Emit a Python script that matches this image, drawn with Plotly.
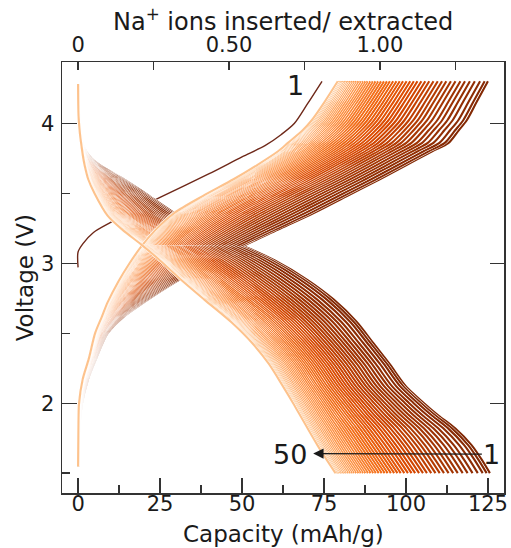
import plotly.graph_objects as go

# ---------------- data ----------------
cycles = list(range(1, 51))

# capacity (mAh/g) reached at 4.3 V on charge, cycles 2..50
charge_capacity = [125.0, 124.0, 122.6, 121.0, 119.5, 118.0, 116.6, 115.1, 113.7, 112.3,
                   111.0, 109.7, 108.4, 107.1, 105.9, 104.7, 103.5, 102.4, 101.3, 100.2,
                   99.1, 98.1, 97.1, 96.1, 95.1, 94.2, 93.3, 92.4, 91.5, 90.7,
                   89.9, 89.1, 88.3, 87.6, 86.9, 86.2, 85.5, 84.8, 84.2, 83.6,
                   83.0, 82.4, 81.9, 81.4, 80.9, 80.4, 80.0, 79.6, 79.2]

# capacity (mAh/g) reached at 1.5 V on discharge, cycles 1..50
discharge_capacity = [125.6, 124.6, 123.4, 121.9, 120.3, 118.8, 117.3, 115.8, 114.4, 113.0,
                      111.6, 110.3, 109.0, 107.7, 106.4, 105.2, 104.0, 102.8, 101.7, 100.6,
                      99.5, 98.4, 97.4, 96.4, 95.4, 94.4, 93.5, 92.6, 91.7, 90.8,
                      90.0, 89.2, 88.4, 87.6, 86.9, 86.2, 85.5, 84.8, 84.1, 83.5,
                      82.9, 82.3, 81.7, 81.2, 80.7, 80.2, 79.7, 79.3, 78.9, 78.5]

# charge profiles: capacity at given voltage levels (early = cycle 2, late = cycle 50)
charge_levels = [1.55, 1.8, 2.0, 2.17, 2.32, 2.5, 2.62, 2.72, 2.87, 3.0, 3.12,
                 3.24, 3.36, 3.48, 3.6, 3.7, 3.8, 3.86, 3.95, 4.02, 4.15, 4.3]
charge_early = [0, 0.3, 1.2, 3.0, 5.5, 9.0, 14.0, 20.0, 30.0, 40.0, 50.0,
                61.0, 72.0, 82.0, 92.0, 100.0, 108.0, 113.0, 116.1, 118.5, 121.5, 125.0]
charge_late = [0, 0.1, 0.3, 1.4, 3.3, 5.2, 7.3, 9.0, 12.3, 15.7, 19.3,
               23.7, 29.4, 38.0, 47.4, 54.5, 61.0, 64.0, 68.5, 71.2, 75.1, 79.2]

# discharge profiles (early = cycle 1, late = cycle 50)
discharge_levels = [4.28, 4.05, 3.92, 3.83, 3.75, 3.69, 3.6, 3.5, 3.34, 3.24, 3.135, 3.02,
                    2.88, 2.74, 2.58, 2.43, 2.28, 2.12, 2.0, 1.91, 1.82, 1.7, 1.6, 1.5]
discharge_early = [0, 0.3, 0.8, 1.7, 4.0, 7.3, 14.0, 20.5, 30.7, 40.0, 49.4, 60.0,
                   70.0, 78.0, 85.0, 90.0, 95.0, 100.0, 105.5, 110.0, 115.0, 120.0, 123.0, 125.6]
discharge_late = [0, 0.15, 0.6, 1.1, 1.6, 2.1, 3.1, 5.0, 9.0, 13.5, 19.2, 25.0,
                  31.5, 38.5, 46.7, 53.1, 58.2, 62.5, 65.6, 67.8, 70.0, 73.0, 75.7, 78.5]

# first charge (cycle 1)
first_charge_cap = [0, 0, 1.5, 4.7, 9.8, 25.0, 40.0, 50.0, 57.0, 62.0, 66.0, 70.0, 74.4]
first_charge_v = [2.97, 3.08, 3.14, 3.22, 3.29, 3.47, 3.64, 3.76, 3.84, 3.92, 4.0, 4.14, 4.3]

na_per_capacity = 1 / 92.07  # Na+ per mAh/g (top axis)

# ---------------- styling helpers ----------------
oranges = ["#fff5eb", "#fee6ce", "#fdd0a2", "#fdae6b", "#fd8d3c",
           "#f16913", "#d94801", "#a63603", "#7f2704"]


def hex2rgb(h):
    return [int(h[i:i + 2], 16) for i in (1, 3, 5)]


def cmap(t):
    pos = t * (len(oranges) - 1)
    i = min(int(pos), len(oranges) - 2)
    f = pos - i
    a, b = hex2rgb(oranges[i]), hex2rgb(oranges[i + 1])
    c = [round(a[k] + (b[k] - a[k]) * f) for k in range(3)]
    return "rgb(%d,%d,%d)" % tuple(c)


def profile(q, early, late):
    qe, ql = early[-1], late[-1]
    w = (q - ql) / (qe - ql)
    return [q * (w * e / qe + (1 - w) * l / ql) for e, l in zip(early, late)]


fig = go.Figure()


def add_curve(x, y, color, width=2.1):
    fig.add_trace(go.Scatter(x=x, y=y, mode="lines", hoverinfo="skip",
                             line=dict(color="white", width=width + 1.0, shape="spline", smoothing=0.8)))
    fig.add_trace(go.Scatter(x=x, y=y, mode="lines", hoverinfo="skip",
                             line=dict(color=color, width=width, shape="spline", smoothing=0.8)))


for n in cycles:
    col = cmap(1.0 - 0.7 * (n - 1) / 49)
    if n == 1:
        add_curve(first_charge_cap, first_charge_v, "rgb(110,40,25)", 1.4)
    else:
        add_curve(profile(charge_capacity[n - 2], charge_early, charge_late), charge_levels, col)
    add_curve(profile(discharge_capacity[n - 1], discharge_early, discharge_late), discharge_levels, col)

# invisible traces that activate the twin axes
fig.add_trace(go.Scatter(x=[0], y=[3], xaxis="x2", yaxis="y", mode="markers",
                         marker=dict(opacity=0), hoverinfo="skip"))
fig.add_trace(go.Scatter(x=[0], y=[3], xaxis="x", yaxis="y2", mode="markers",
                         marker=dict(opacity=0), hoverinfo="skip"))

xr = [-4.9, 129.9]
yr = [1.358, 4.438]
axcol = "#333333"
font = "DejaVu Sans"
tick_font = dict(family=font, size=21, color="#1a1a1a")
title_font = dict(family=font, size=23, color="#1a1a1a")

fig.update_layout(
    width=511, height=548,
    margin=dict(l=62, r=7, t=62, b=55, autoexpand=False),
    paper_bgcolor="white", plot_bgcolor="white",
    showlegend=False, hovermode=False,
    font=dict(family=font, color="#1a1a1a"),
    xaxis=dict(range=xr, tickvals=[0, 25, 50, 75, 100, 125], ticks="inside", ticklen=15,
               tickwidth=1.3, tickcolor=axcol, showline=True, linecolor=axcol, linewidth=1.5,
               showgrid=False, zeroline=False, tickfont=tick_font, automargin=False,
               ticklabelstandoff=-9,
               minor=dict(dtick=12.5, tick0=0, ticks="inside", ticklen=8, tickwidth=1.3,
                          tickcolor=axcol, showgrid=False)),
    xaxis2=dict(range=[xr[0] * na_per_capacity, xr[1] * na_per_capacity], overlaying="x",
                side="top", anchor="y", tickvals=[0, 0.5, 1.0], ticktext=["0", "0.50", "1.00"],
                ticks="inside", ticklen=8, tickwidth=1.3, tickcolor=axcol, showline=True,
                linecolor=axcol, linewidth=1.5, showgrid=False, zeroline=False, tickfont=tick_font,
                automargin=False,
                minor=dict(dtick=0.25, tick0=0, ticks="inside", ticklen=8, tickwidth=1.3,
                           tickcolor=axcol, showgrid=False)),
    yaxis=dict(range=yr, tickvals=[2, 3, 4], ticks="inside", ticklen=15, tickwidth=1.3,
               tickcolor=axcol, showline=True, linecolor=axcol, linewidth=1.5, showgrid=False,
               zeroline=False, tickfont=tick_font, automargin=False, ticklabelstandoff=2,
               minor=dict(dtick=0.5, tick0=0, ticks="inside", ticklen=8, tickwidth=1.3,
                          tickcolor=axcol, showgrid=False)),
    yaxis2=dict(range=yr, overlaying="y", side="right", anchor="x", tickvals=[2, 3, 4],
                ticks="inside", ticklen=14, tickwidth=1.3, tickcolor=axcol, showline=True,
                linecolor=axcol, linewidth=1.5, showgrid=False, zeroline=False,
                showticklabels=False, automargin=False),
)

# axis titles
fig.add_annotation(x=0.5, y=-0.095, xref="paper", yref="paper", text="Capacity (mAh/g)",
                   showarrow=False, font=title_font, xanchor="center", yanchor="middle")
fig.add_annotation(x=0.5, y=1.097, xref="paper", yref="paper",
                   text="Na<sup>+</sup> ions inserted/ extracted",
                   showarrow=False, font=dict(family=font, size=24, color="#1a1a1a"),
                   xanchor="center", yanchor="middle")
fig.add_annotation(x=-0.084, y=0.5, xref="paper", yref="paper", text="Voltage (V)",
                   showarrow=False, font=title_font, textangle=-90,
                   xanchor="center", yanchor="middle")

big = dict(family=font, size=27, color="#1a1a1a")
fig.add_annotation(x=66.2, y=4.27, text="1", showarrow=False, font=big, xref="x", yref="y")
fig.add_annotation(x=64.6, y=1.635, text="50", showarrow=False, font=big, xref="x", yref="y")
fig.add_annotation(x=71.7, y=1.64, ax=126.2, ay=1.635, axref="x", ayref="y", xref="x", yref="y",
                   text="1", font=big, showarrow=True, arrowhead=2, arrowsize=1.6,
                   arrowwidth=1.3, arrowcolor="#1a1a1a", standoff=0, startstandoff=0)

fig.write_html("out.html", config={"displayModeBar": False, "staticPlot": True},
               post_script="document.body.style.margin='0px';")
